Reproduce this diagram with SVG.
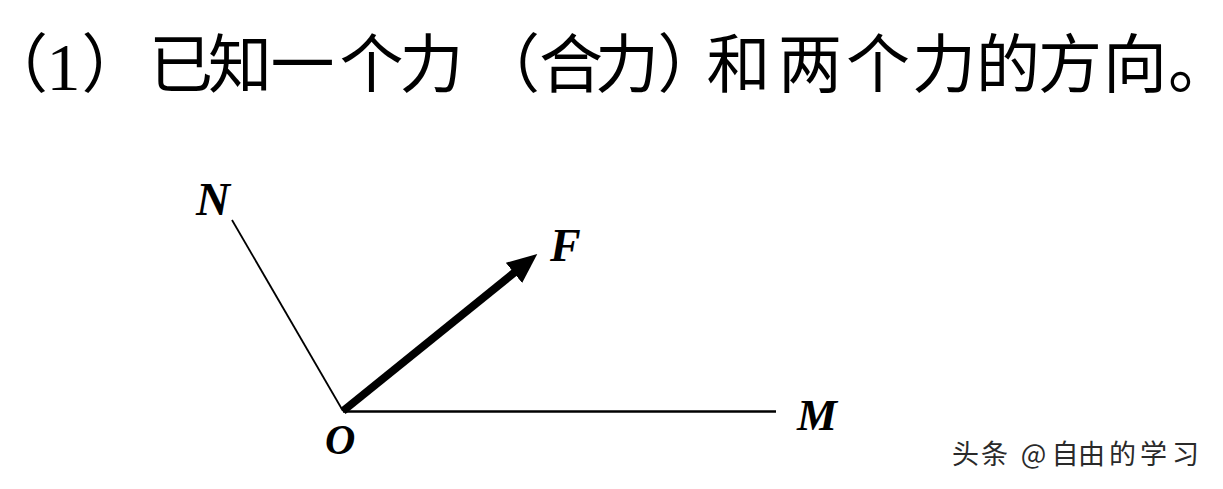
<svg xmlns="http://www.w3.org/2000/svg" width="1223" height="489" viewBox="0 0 1223 489">
  <style>
    .title { font-family: "Noto Sans CJK SC", "Noto Sans", sans-serif; font-size: 64px; fill: #000; text-anchor: middle; }
    .p { font-feature-settings: "halt" 1; }
    .num { font-family: "Liberation Serif", serif; font-size: 68px; }
    .lbl { font-family: "Liberation Serif", serif; font-weight: bold; font-style: italic; fill: #000; }
    .ray { stroke: #000; fill: none; }
    .force { stroke: #000; stroke-width: 8; fill: none; }
    .wm { font-family: "Noto Sans CJK SC", "Noto Sans", sans-serif; font-size: 27px; fill: #2a2a2a; text-anchor: middle; }
  </style>
  <defs>
    <marker id="head" markerUnits="userSpaceOnUse" viewBox="0 0 30 26" refX="2" refY="13" markerWidth="30" markerHeight="26" orient="auto">
      <path d="M0,0 L30,13 L0,26 Z" fill="#000"/>
    </marker>
  </defs>
  <rect width="1223" height="489" fill="#fff"/>

  <g id="title">
    <text class="title" y="87"><tspan class="p" x="32">（</tspan><tspan class="num" x="63.5" y="90">1</tspan><tspan class="p" x="97.5" y="87">）</tspan><tspan x="181 240 302.5 371.5 431.5">已知一个力</tspan><tspan class="p" x="524">（</tspan><tspan x="571 627">合力</tspan><tspan class="p" x="673.5">）</tspan><tspan x="738.5 810 878 944 1008 1070 1135">和两个力的方向</tspan><tspan class="p" x="1184">。</tspan></text>
  </g>

  <g id="connectors">
    <line class="ray" stroke-width="1.8" x1="343" y1="411" x2="232" y2="220"/>
    <line class="ray" stroke-width="2.3" x1="343" y1="411.5" x2="776" y2="411.5"/>
    <line class="force" x1="343" y1="411" x2="515.5" y2="271.6" marker-end="url(#head)"/>
  </g>

  <g id="node-N"><text class="lbl" x="196" y="215" font-size="47">N</text></g>
  <g id="node-F"><text class="lbl" x="550" y="261" font-size="46">F</text></g>
  <g id="node-O"><text class="lbl" x="325" y="454" font-size="42">O</text></g>
  <g id="node-M"><text class="lbl" x="797" y="430" font-size="45">M</text></g>

  <g id="watermark">
    <text class="wm" y="464" x="965.5 994.5 1012 1033.5 1065 1091.5 1122.5 1153.5 1185.5">头条 @自由的学习</text>
  </g>
</svg>
